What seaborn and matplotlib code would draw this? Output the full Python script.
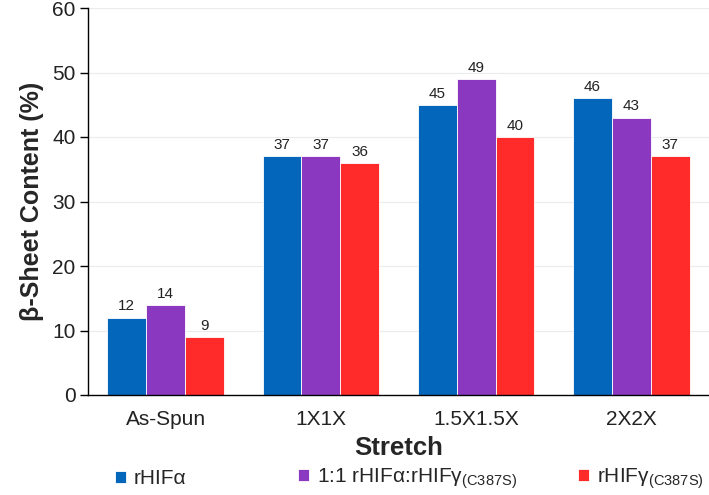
import matplotlib
matplotlib.use("Agg")
import matplotlib.pyplot as plt
import seaborn as sns
import pandas as pd

categories = ["As-Spun", "1X1X", "1.5X1.5X", "2X2X"]
series_names = ["rHIFα", "1:1 rHIFα:rHIFγ$_{\\mathregular{(C387S)}}$", "rHIFγ$_{\\mathregular{(C387S)}}$"]
rhif_a = [12, 37, 45, 46]
mix = [14, 37, 49, 43]
rhif_g = [9, 36, 40, 37]
colors = ["#0366BA", "#8A38C0", "#FF2B2B"]

sns.set_theme(style="white")
plt.rcParams['font.family'] = ['Liberation Sans', 'DejaVu Sans']
plt.rcParams['mathtext.fontset'] = 'custom'
plt.rcParams['mathtext.rm'] = 'Liberation Sans'

rows = []
for name, vals in zip(series_names, [rhif_a, mix, rhif_g]):
    for c, v in zip(categories, vals):
        rows.append({"Stretch": c, "Series": name, "Value": v})
df = pd.DataFrame(rows)

fig = plt.figure(figsize=(7.09, 4.95), dpi=100)
ax = fig.add_axes([88/709, 100/495, 1 - 88/709, (395-8)/495])

sns.barplot(data=df, x="Stretch", y="Value", hue="Series", palette=colors,
            saturation=1, width=0.75, edgecolor="white", linewidth=0.6, ax=ax, legend=True)

for cont in ax.containers:
    ax.bar_label(cont, fmt="%d", padding=3, fontsize=11, color="#222222")

ax.set_ylim(0, 60)
ax.set_xlim(-0.5, 3.5)
ax.set_yticks(range(0, 61, 10))
ax.yaxis.grid(True, color="#EBEBEB", linewidth=0.8)
ax.set_axisbelow(True)
for s in ["top", "right"]:
    ax.spines[s].set_visible(False)
for s in ["left", "bottom"]:
    ax.spines[s].set_color("black")
    ax.spines[s].set_linewidth(1.0)
ax.tick_params(axis="y", which="major", left=True, length=6, width=1, color="black",
               labelsize=15, colors="#222222", pad=3)
ax.tick_params(axis="x", bottom=False, labelsize=15, colors="#222222", pad=5)
ax.set_ylabel("β-Sheet Content (%)", fontsize=18, fontweight="bold", labelpad=6)
ax.set_xlabel("Stretch", fontsize=18.5, fontweight="bold", labelpad=5)

handles, labels = ax.get_legend_handles_labels()
ax.get_legend().remove()
legend_x = [115, 298, 578]
for h, lab, lx in zip(handles, labels, legend_x):
    lg = fig.legend([h], [lab], loc="center left", bbox_to_anchor=(lx/709, 0.033),
                    frameon=False, fontsize=15, handlelength=0.55, handleheight=0.55,
                    handletextpad=0.35, borderpad=0, borderaxespad=0)

fig.savefig("out.png", dpi=100)
